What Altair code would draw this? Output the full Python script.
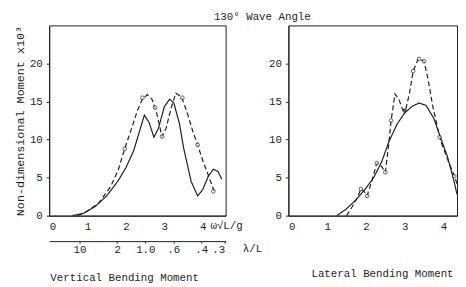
import math
import altair as alt
import pandas as pd

FONT = "Liberation Mono"
INK = "#1e1e1e"

# ---------------- Vertical bending moment (left panel) ----------------
v_sol_x = [0.6, 0.9, 1.2, 1.5, 1.8, 2.0, 2.2, 2.35, 2.48, 2.6, 2.73, 2.85, 3.0, 3.14, 3.25,
           3.4, 3.5, 3.7, 3.87, 4.0, 4.15, 4.28, 4.4, 4.5]
v_sol_y = [0.0, 0.3, 1.2, 2.6, 4.6, 6.3, 8.5, 11.0, 13.2, 12.3, 10.3, 11.5, 14.3, 15.3, 14.8,
           12.0, 9.0, 4.5, 2.6, 3.4, 5.2, 6.1, 5.8, 4.8]
v_das_x = [0.75, 1.0, 1.3, 1.6, 1.8, 1.97, 2.15, 2.3, 2.43, 2.56, 2.68, 2.8, 2.94, 3.05, 3.17,
           3.3, 3.45, 3.6, 3.75, 3.87, 4.0, 4.15, 4.3]
v_das_y = [0.0, 0.6, 1.7, 3.8, 6.0, 8.8, 11.5, 13.8, 15.3, 15.9, 15.3, 13.5, 10.4, 11.5, 14.0,
           16.1, 15.6, 13.5, 11.0, 9.3, 7.3, 5.3, 3.2]
v_pts_x = [1.97, 2.43, 2.76, 2.94, 3.47, 3.87, 4.28]
v_pts_y = [8.8, 15.5, 14.2, 10.4, 15.5, 9.3, 3.2]
v_pts_f = ["o", "o", "o", "o", "o", "o", "o"]

# ---------------- Lateral bending moment (right panel) ----------------
l_sol_x = [1.25, 1.5, 1.75, 2.0, 2.2, 2.4, 2.6, 2.8, 3.0, 3.2, 3.37, 3.55, 3.75, 3.95, 4.1, 4.25, 4.35]
l_sol_y = [0.0, 0.9, 2.1, 3.6, 5.0, 7.0, 9.8, 12.0, 13.5, 14.4, 14.8, 14.5, 12.8, 9.9, 7.8, 5.0, 2.8]
l_das_x = [1.5, 1.65, 1.78, 1.87, 1.95, 2.03, 2.15, 2.28, 2.4, 2.5, 2.58, 2.65, 2.75, 2.85, 2.95,
           3.02, 3.12, 3.22, 3.35, 3.5, 3.6, 3.72, 3.85, 3.95, 4.1, 4.28, 4.35]
l_das_y = [0.0, 1.2, 2.4, 3.5, 3.2, 2.6, 4.5, 6.9, 6.5, 5.7, 9.0, 12.5, 16.0, 15.3, 13.9,
           13.8, 16.0, 19.0, 20.6, 20.3, 18.0, 14.5, 11.5, 9.5, 7.5, 5.2, 4.2]
l_pts_x = [1.87, 2.03, 2.28, 2.5, 2.65, 3.0, 3.22, 3.37, 3.5, 3.9, 4.28]
l_pts_y = [3.5, 2.6, 6.9, 5.7, 12.5, 13.8, 19.0, 20.6, 20.3, 10.3, 5.2]
l_pts_f = ["o", "o", "o", "o", "o", "f", "o", "o", "o", "o", "o"]

# secondary scale: wave length ratio lambda/L
lam_labels = ["10", "2", "1.0", ".6", ".4", ".3"]
lam_values = [10.0, 2.0, 1.0, 0.6, 0.4, 0.3]
lam_pos = [round(math.sqrt(2 * math.pi / v), 4) for v in lam_values]

x_ticks = [0, 1, 2, 3, 4]
y_ticks = [0, 5, 10, 15, 20]


def lines_df(sx, sy, dx, dy):
    a = pd.DataFrame({"x": sx, "y": sy, "s": "solid"})
    b = pd.DataFrame({"x": dx, "y": dy, "s": "dashed"})
    return pd.concat([a, b], ignore_index=True)


def lam_expr():
    parts = []
    for i in range(len(lam_pos) - 1):
        mid = (lam_pos[i] + lam_pos[i + 1]) / 2
        parts.append(f"datum.value < {mid:.4f} ? '{lam_labels[i]}' : ")
    return "".join(parts) + f"'{lam_labels[-1]}'"


W1, W2, H = 180, 172, 194
YSC = alt.Scale(domain=[0, 25], nice=False, zero=False)


def panel(df_lines, px, py, pf, xdom, width, left, bottom_title, title_dx, title_offset):
    xsc = alt.Scale(domain=xdom, nice=False, zero=False)
    yaxis = alt.Axis(values=y_ticks, grid=False, tickSize=3, labelPadding=4,
                     title="Non-dimensional Moment x10³" if left else None,
                     titleFontSize=12, titlePadding=3)
    if left:
        xaxis = alt.Axis(values=x_ticks, format="d", grid=False, tickSize=0, labelPadding=5,
                         orient="bottom",
                         title="ω√L/g", titleAngle=0, titleX=164, titleY=10,
                         titleAlign="left", titleBaseline="middle")
    else:
        xaxis = alt.Axis(values=x_ticks, format="d", grid=False, tickSize=0, labelPadding=5,
                         orient="bottom", title=None)
    lines = alt.Chart(df_lines).mark_line(strokeWidth=1.2, color=INK, clip=True).encode(
        x=alt.X("x:Q", scale=xsc, axis=xaxis),
        y=alt.Y("y:Q", scale=YSC, axis=yaxis),
        detail="s:N",
        strokeDash=alt.StrokeDash("s:N", scale=alt.Scale(domain=["solid", "dashed"],
                                                         range=[[1, 0], [5, 3]]), legend=None),
    )
    pdf = pd.DataFrame({"x": px, "y": py, "f": pf})
    if left:
        p_xaxis = alt.Axis(values=lam_pos, labelExpr=lam_expr(), grid=False, offset=26,
                           orient="bottom",
                           tickSize=2, labelPadding=1, title="λ/L", titleAngle=0,
                           titleX=197, titleY=8, titleAlign="left", titleBaseline="middle")
    else:
        p_xaxis = xaxis
    pts = alt.Chart(pdf).mark_point(shape="circle", size=14, strokeWidth=1, stroke=INK,
                                    clip=True).encode(
        x=alt.X("x:Q", scale=xsc, axis=p_xaxis),
        y=alt.Y("y:Q", scale=YSC, axis=yaxis),
        fill=alt.Fill("f:N", scale=alt.Scale(domain=["o", "f"], range=["white", INK]), legend=None),
    )
    ch = alt.layer(lines, pts)
    if left:
        ch = ch.resolve_axis(x="independent")
    return ch.properties(
        width=width, height=H,
        title=alt.TitleParams(bottom_title, orient="bottom", anchor="middle", frame="group",
                              dx=title_dx, offset=title_offset, fontSize=11,
                              fontWeight="normal", font=FONT, color=INK),
    )


left = panel(lines_df(v_sol_x, v_sol_y, v_das_x, v_das_y), v_pts_x, v_pts_y, v_pts_f,
             [0, 4.6], W1, True, "Vertical Bending Moment", -13, 18)
right = panel(lines_df(l_sol_x, l_sol_y, l_das_x, l_das_y), l_pts_x, l_pts_y, l_pts_f,
              [0, 4.35], W2, False, "Lateral Bending Moment", 10, 38)

chart = alt.hconcat(left, right, spacing=64, bounds="flush").properties(
    title=alt.TitleParams("130° Wave Angle", anchor="start", frame="group", dx=168,
                          offset=3, fontSize=11, fontWeight="normal", font=FONT, color=INK),
    padding={"left": 5, "top": 0, "right": 0, "bottom": 0},
    background="white",
).configure_view(stroke=INK, strokeWidth=1).configure_axis(
    labelFont=FONT, titleFont=FONT, labelFontSize=11, titleFontSize=11,
    titleFontWeight="normal", labelColor=INK, titleColor=INK, domainColor=INK,
    tickColor=INK, grid=False,
)

chart.save("out.html", embed_options={"renderer": "svg", "actions": False})
